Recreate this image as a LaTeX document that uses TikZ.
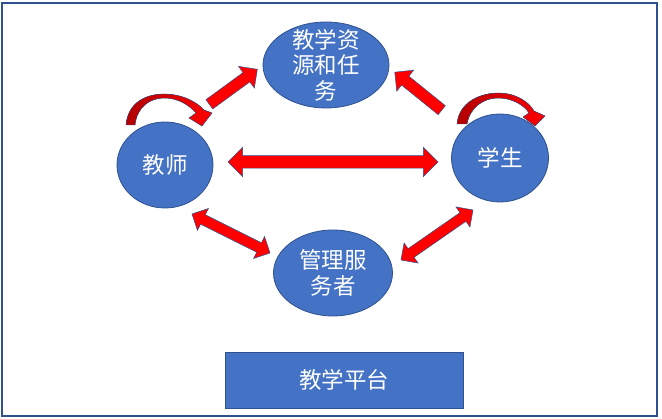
\documentclass[tikz,border=0pt]{standalone}
\usepackage{fontspec}
\newfontfamily\cjk{Noto Sans CJK SC}
\usepackage{tikz}
\usetikzlibrary{positioning,calc}
\usetikzlibrary{shapes.geometric, shapes.arrows}
\definecolor{boxblue}{HTML}{4472C4}
\definecolor{boxline}{HTML}{2F528F}
\tikzset{
  blob/.style={ellipse,draw=boxline,fill=boxblue,line width=0.8pt,inner sep=0pt,text=white,font=\cjk\fontsize{22.5}{25.5}\selectfont,align=center},
  words/.style={inner sep=0pt,text=white,font=\cjk\fontsize{22.5}{25.5}\selectfont,align=center},
  blk/.style={fill=red,draw=boxline,line width=0.5pt,inner xsep=0pt,minimum width=0pt,sloped,allow upside down},
  oneway/.style={blk,single arrow,inner ysep=#1/2,single arrow head extend=0.7*#1,single arrow head indent=0pt},
  twoway/.style={blk,double arrow,inner ysep=#1/2,double arrow head extend=0.7*#1,double arrow head indent=0pt},
  loop/.style={left color=red!70!black,right color=red,draw=boxline,line width=0.4pt}
}
% block arrow between two points: style, from, to
\newcommand{\blkarrow}[3]{%
  \path let \p1=($(#3)-(#2)$), \n1={veclen(\x1,\y1)} in
    (#2) -- node[#1,minimum height=\n1]{} (#3);}

\begin{document}
\begin{tikzpicture}[x=1pt,y=1pt]
  \useasboundingbox (0,0) rectangle (662,419);
  \draw[boxline,line width=1.5pt] (2,3) rectangle (657,416);

  %Nodes
  \node[blob,minimum width=96,minimum height=86] (teacher) at (165,254) {教师};
  \node[blob,minimum width=126,minimum height=86] (resource) at (326,354) {};
  \node[words] at (resource) {教学资\\源和任\\务};
  \node[blob,minimum width=119,minimum height=86] (manager) at (333,146) {管理服\\务者};
  \node[blob,minimum width=97,minimum height=88] (student) at (500,261) {学生};
  \node[draw=boxline,fill=boxblue,line width=0.8pt,minimum width=238,minimum height=56,text=white,font=\cjk\fontsize{22.5}{25}\selectfont] (platform) at (344,39) {教学平台};

  %Arrow ends
  \coordinate (tr-tail) at (207,313);
  \coordinate (tr-tip) at (255,348);
  \coordinate (sr-tail) at (444,307);
  \coordinate (sr-tip) at (397,345);
  \coordinate (ts-l) at (228,257);
  \coordinate (ts-r) at (438,257);
  \coordinate (tm-l) at (192,205);
  \coordinate (tm-r) at (270,166);
  \coordinate (sm-r) at (473,209);
  \coordinate (sm-l) at (401,159);

  %Arrows
  \blkarrow{oneway=11}{tr-tail}{tr-tip}
  \blkarrow{oneway=11}{sr-tail}{sr-tip}
  \blkarrow{twoway=12}{ts-l}{ts-r}
  \blkarrow{twoway=10}{tm-l}{tm-r}
  \blkarrow{twoway=10}{sm-l}{sm-r}

  %Self loops
  \filldraw[loop] (126,294) .. controls (128,318) and (148,325) .. (164,325)
    .. controls (182,325) and (197,317) .. (204,309) -- (212,306) -- (202,293) -- (189,301) -- (196,306)
    .. controls (189,314) and (178,321) .. (164,321)
    .. controls (150,321) and (137,312) .. (135,294) -- cycle;
  \filldraw[loop] (457,295) .. controls (459,318) and (482,326) .. (498,326)
    .. controls (516,326) and (529,317) .. (534,308) -- (545,303) -- (535,293) -- (523,302) -- (529,306)
    .. controls (524,314) and (512,321) .. (498,321)
    .. controls (484,321) and (470,312) .. (467,295) -- cycle;
\end{tikzpicture}
\end{document}
